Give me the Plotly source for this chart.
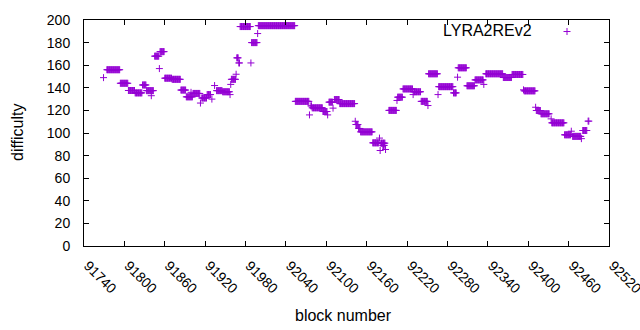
import plotly.graph_objects as go

# Difficulty runs: consecutive blocks sharing a difficulty
run_start = [91769, 91774, 91794, 91806, 91816, 91827, 91833, 91840, 91845, 91852, 91853,
             91860, 91871, 91884, 91892, 91899, 91902, 91913, 91915, 91923, 91930, 91934,
             91937, 91946, 91957, 91958, 91959, 91966, 91967, 91970, 91972, 91988, 91989,
             91998, 91999, 92054, 92075, 92077, 92079, 92095, 92102, 92104, 92110, 92112,
             92120, 92143, 92144, 92148, 92151, 92169, 92179, 92180, 92181, 92184, 92188,
             92193, 92205, 92206, 92214, 92229, 92230, 92241, 92251, 92252, 92266, 92267,
             92289, 92295, 92296, 92309, 92321, 92334, 92337, 92363, 92376, 92393, 92394,
             92411, 92412, 92419, 92434, 92435, 92454, 92464, 92466, 92479, 92481, 92489]
run_end   = [91769, 91793, 91805, 91815, 91826, 91832, 91843, 91840, 91851, 91852, 91859,
             91870, 91883, 91891, 91901, 91899, 91912, 91913, 91922, 91928, 91930, 91934,
             91945, 91956, 91957, 91958, 91965, 91966, 91969, 91971, 91987, 91988, 91997,
             91998, 92053, 92074, 92075, 92078, 92094, 92101, 92102, 92109, 92110, 92119,
             92142, 92143, 92147, 92150, 92168, 92178, 92179, 92180, 92187, 92186, 92188,
             92204, 92205, 92213, 92228, 92229, 92240, 92250, 92251, 92265, 92266, 92288,
             92293, 92295, 92308, 92320, 92333, 92334, 92362, 92375, 92392, 92393, 92410,
             92411, 92418, 92431, 92434, 92453, 92463, 92464, 92478, 92479, 92487, 92490]
run_diff  = [149, 156, 144, 137.6, 135.5, 142.5, 137.5, 133, 168, 157, 172,
             148.5, 147.5, 138, 132, 136, 135, 126.5, 131, 134, 130, 142,
             137.5, 136.5, 134, 143, 147.5, 152, 166.5, 162, 194.2, 162, 180,
             188, 195, 128, 116, 124, 122.3, 119, 116, 127.3, 122, 129.6,
             126, 110.4, 107.5, 104, 101, 91.3, 95.5, 84.5, 91, 89, 85.4,
             120, 128.8, 131.7, 139, 134, 136.5, 128, 124.3, 152.4, 134, 141,
             135.5, 149.4, 157.7, 141.8, 147, 143, 152.4, 149.1, 151.8, 138.2, 137.3,
             122.8, 119.9, 117, 112.5, 109, 98.4, 101.6, 97, 95, 102.2, 110.5]

x_ticks = [91740, 91800, 91860, 91920, 91980, 92040, 92100, 92160, 92220,
           92280, 92340, 92400, 92460, 92520]
y_ticks = [0, 20, 40, 60, 80, 100, 120, 140, 160, 180, 200]

blocks, difficulty = [], []
for s, e, d in zip(run_start, run_end, run_diff):
    for b in range(s, e + 1):
        blocks.append(b)
        difficulty.append(d)

PURPLE = "#9400D3"
FONT = "Liberation Sans"

marker = dict(symbol="cross-thin", size=5, color=PURPLE, line=dict(width=1, color=PURPLE))

fig = go.Figure()
fig.add_trace(go.Scatter(x=blocks, y=difficulty, mode="markers", marker=marker,
                         name="LYRA2REv2", showlegend=False))
# key sample (gnuplot style: text then symbol)
fig.add_trace(go.Scatter(x=[0.92], y=[0.949], mode="markers", marker=marker,
                         xaxis="x2", yaxis="y2", showlegend=False, hoverinfo="skip"))

axis_common = dict(showline=True, linecolor="black", linewidth=1, mirror="ticks",
                   ticks="inside", ticklen=5, tickcolor="black", showgrid=False,
                   zeroline=False, automargin=False, ticklabeloverflow="allow",
                   tickfont=dict(family=FONT, size=14, color="black"))

L, R, T, B = 84, 31, 20, 84
pw, ph = 640 - L - R, 330 - T - B

fig.update_layout(
    width=640, height=330,
    margin=dict(l=L, r=R, t=T, b=B, autoexpand=False),
    paper_bgcolor="white", plot_bgcolor="white",
    font=dict(family=FONT, size=14, color="black"),
    xaxis=dict(range=[91740, 92520], tickvals=x_ticks, ticktext=[str(v) for v in x_ticks],
               tickangle=45, ticklabelstandoff=5, ticklabelshift=4, **axis_common),
    yaxis=dict(range=[0, 200], tickvals=y_ticks, ticklabelstandoff=10, **axis_common),
    xaxis2=dict(range=[0, 1], overlaying="x", visible=False),
    yaxis2=dict(range=[0, 1], overlaying="y", visible=False),
    annotations=[
        dict(text="LYRA2REv2", x=(534 - L) / pw, y=(330 - B - 31) / ph, xref="paper", yref="paper",
             xanchor="right", yanchor="middle", showarrow=False,
             font=dict(family=FONT, size=16, color="black")),
        dict(text="difficulty", x=(17 - L) / pw, y=(330 - B - 132) / ph, xref="paper", yref="paper",
             xanchor="center", yanchor="middle",
             showarrow=False, textangle=-90, font=dict(family=FONT, size=16, color="black")),
        dict(text="block number", x=(343 - L) / pw, y=(330 - B - 315) / ph, xref="paper", yref="paper",
             xanchor="center", yanchor="middle",
             showarrow=False, font=dict(family=FONT, size=16, color="black")),
    ],
)

fig.write_html("out.html", config={"displayModeBar": False},
               post_script="document.body.style.margin='0px';document.body.style.padding='0px';")
